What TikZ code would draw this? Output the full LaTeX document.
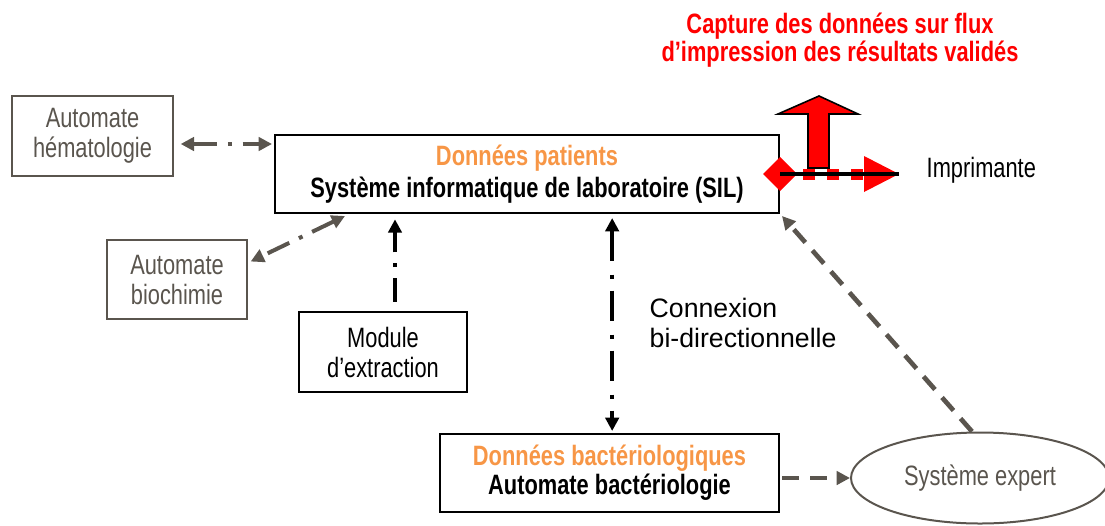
\documentclass[tikz,border=0pt]{standalone}
\usepackage{fontspec}
\setmainfont{Liberation Sans}[FakeStretch=0.78]
\newfontfamily\plainsans{Liberation Sans}
\usetikzlibrary{arrows.meta,shapes.geometric}
\definecolor{labgray}{RGB}{90,85,78}
\definecolor{laborange}{RGB}{247,150,70}

\begin{document}
\begin{tikzpicture}[x=0.75pt,y=-0.75pt,
    every node/.style={font=\fontsize{21}{22.5}\selectfont, align=center},
    graybox/.style={draw=labgray, line width=1.5pt, text=labgray, inner sep=0pt},
    blackbox/.style={draw, line width=1.5pt, inner sep=0pt},
    linkdd/.style={line width=3pt, dash pattern=on 18pt off 8pt on 3pt off 8pt},
    linkdash/.style={line width=3.5pt, draw=labgray, dash pattern=on 13pt off 8pt},
    headtip/.style={-{Triangle[length=10pt,width=10pt]}},
    bothtips/.style={{Triangle[length=10pt,width=10pt]}-{Triangle[length=10pt,width=10pt]}}]

\useasboundingbox (0,0) rectangle (1105,525);
\clip (0,0) rectangle (1105,525);

% boxes
\node[blackbox, minimum width=378pt, minimum height=58.5pt,
      font=\bfseries\fontsize{21}{24}\selectfont] (sil) at (527,174)
    {\textcolor{laborange}{Données patients}\\Système informatique de laboratoire (SIL)};
\node[graybox, minimum width=120.75pt, minimum height=60pt] (hema) at (92.5,136) {Automate\\hématologie};
\node[graybox, minimum width=105pt, minimum height=59.25pt] (bio) at (177,279.5) {Automate\\biochimie};
\node[blackbox, minimum width=126pt, minimum height=60pt] (module) at (383,352) {Module\\d’extraction};
\node[blackbox, minimum width=254.25pt, minimum height=58.5pt, font=\bfseries\fontsize{21}{22}\selectfont] (bact) at (609.5,473)
    {\textcolor{laborange}{Données bactériologiques}\\Automate bactériologie};
\node[ellipse, draw=labgray, line width=1.5pt, text=labgray, inner sep=0pt,
      minimum width=193.5pt, minimum height=68.25pt] (expert) at (980,478) {Système expert};

% texts
\node[text=red, font=\bfseries\fontsize{21}{20.5}\selectfont] (titre) at (840,40)
    {Capture des données sur flux\\d’impression des résultats validés};
\node[anchor=west] (imp) at (922,170) {Imprimante};
\node[anchor=west, align=left, font=\plainsans\fontsize{20}{22.5}\selectfont] (cnx) at (645,323)
    {Connexion\\bi-directionnelle};

% links
\draw[linkdd, labgray, bothtips] ([xshift=5pt,yshift=-6pt]hema.east) -- ([xshift=-1.5pt,yshift=22.5pt]sil.west);
\draw[linkdd, labgray, bothtips] ([xshift=-136.5pt,yshift=-1.5pt]sil.south) -- ([xshift=2pt,yshift=13.5pt]bio.east);
\draw[linkdd, headtip] ([xshift=9pt,yshift=7pt]module.north) -- ([xshift=9pt,yshift=-4pt]module.north |- sil.south);
\draw[linkdd, bothtips, dash pattern=on 23pt off 10pt on 3pt off 9pt]
    ([xshift=2pt,yshift=-3pt]bact.north |- sil.south) -- ([xshift=2pt,yshift=1.5pt]bact.north);
\draw[linkdash, headtip, labgray] ([xshift=1.5pt]bact.east |- expert.west) -- (expert.west);
\draw[linkdash, headtip, labgray] ([xshift=-6pt]expert.north) -- ([xshift=1.5pt,yshift=-1.5pt]sil.south east);

% capture symbol
\coordinate (prt) at (899,174);
\filldraw[fill=red, draw=black, line width=1.2pt]
    (808,168) -- (808,114) -- (778,114) -- (819,96) -- (858,114) -- (829,114) -- (829,168) -- cycle;
\fill[red] (sil.east) ++(-17,0) -- ++(17,-17) -- ++(17,17) -- ++(-17,17) -- cycle;
\draw[red, line width=8.25pt, dash pattern=on 9pt off 9pt] (803,174) -- (864,174);
\fill[red] (864,156) -- (prt) -- (864,192) -- cycle;
\draw[line width=2.5pt] (sil.east) -- (prt);
\end{tikzpicture}
\end{document}
